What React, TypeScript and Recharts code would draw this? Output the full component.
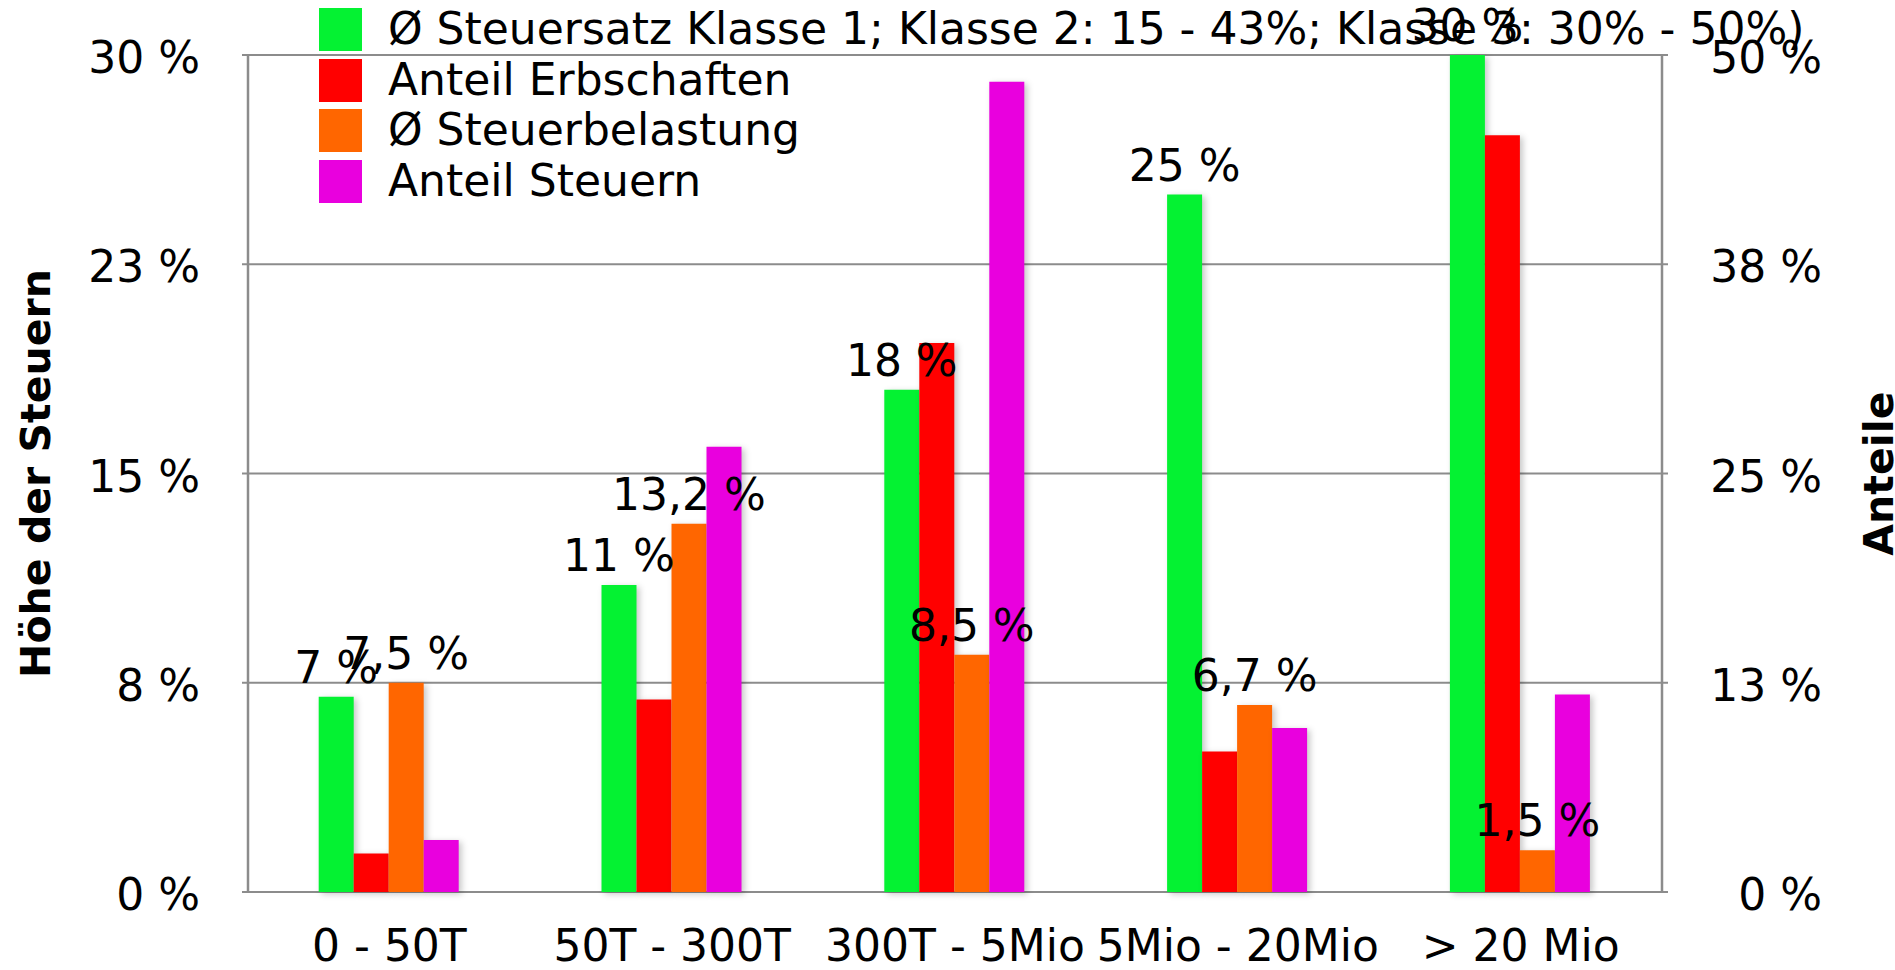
import React from 'react';
import { BarChart, Bar, XAxis, YAxis, CartesianGrid, Legend, LabelList } from 'recharts';

const FONT = '"DejaVu Sans", Verdana, sans-serif';
const AXIS_GRAY = '#8c8c8c';

// Vermögensklassen
const categories = ['0 - 50T', '50T - 300T', '300T - 5Mio', '5Mio - 20Mio', '> 20 Mio'];

// linke Achse (Höhe der Steuern)
const steuersatz = [7, 11, 18, 25, 30];
const steuersatzLabels = ['7 %', '11 %', '18 %', '25 %', '30 %'];
const steuerbelastung = [7.5, 13.2, 8.5, 6.7, 1.5];
const steuerbelastungLabels = ['7,5 %', '13,2 %', '8,5 %', '6,7 %', '1,5 %'];

// rechte Achse (Anteile)
const anteilErbschaften = [2.3, 11.5, 32.8, 8.4, 45.2];
const anteilSteuern = [3.1, 26.6, 48.4, 9.8, 11.8];

const leftTicks = [0, 7.5, 15, 22.5, 30];
const rightTicks = [0, 12.5, 25, 37.5, 50];
const edgeTicks = [0, 1, 2, 3, 4, 5];

const seriesNames = [
  'Ø Steuersatz Klasse 1; Klasse 2: 15 - 43%; Klasse 3: 30% - 50%)',
  'Anteil Erbschaften',
  'Ø Steuerbelastung',
  'Anteil Steuern',
];
const seriesColors = ['#04F232', '#FF0000', '#FF6600', '#E900DE'];

const data = categories.map((name, i) => ({
  name,
  steuersatz: steuersatz[i],
  steuersatzLabel: steuersatzLabels[i],
  erbschaften: anteilErbschaften[i],
  belastung: steuerbelastung[i],
  belastungLabel: steuerbelastungLabels[i],
  steuern: anteilSteuern[i],
}));

const LeftTick = ({ x, y, payload }: any) => (
  <text x={x} y={y} dy={18} textAnchor="end" fontSize={44} fontFamily={FONT} fill="#000">
    {Math.round(payload.value)} %
  </text>
);

const RightTick = ({ x, y, payload }: any) => (
  <text x={x} y={y} dy={18} textAnchor="end" fontSize={44} fontFamily={FONT} fill="#000">
    {Math.round(payload.value)} %
  </text>
);

const CategoryTick = ({ x, y, payload }: any) => (
  <text x={x} y={y} dy={69} textAnchor="middle" fontSize={44} fontFamily={FONT} fill="#000">
    {payload.value}
  </text>
);

// Wert über dem Balken, ohne Umbruch
const TopLabel = ({ x, y, width, value }: any) => (
  <text x={x + width / 2} y={y - 14} textAnchor="middle" fontSize={44} fontFamily={FONT} fill="#000">
    {value}
  </text>
);

const LeftTitle = ({ viewBox }: any) => {
  const cx = viewBox.x + 50;
  const cy = viewBox.y + viewBox.height / 2;
  return (
    <text x={cx} y={cy} transform={`rotate(-90 ${cx} ${cy})`} textAnchor="middle"
      fontSize={41} fontWeight="bold" fontFamily={FONT} fill="#000">
      Höhe der Steuern
    </text>
  );
};

const RightTitle = ({ viewBox }: any) => {
  const cx = viewBox.x + 231;
  const cy = viewBox.y + viewBox.height / 2;
  return (
    <text x={cx} y={cy} transform={`rotate(-90 ${cx} ${cy})`} textAnchor="middle"
      fontSize={41} fontWeight="bold" fontFamily={FONT} fill="#000">
      Anteile
    </text>
  );
};

const ChartLegend = () => (
  <div style={{ fontFamily: FONT, fontSize: 44, lineHeight: '50.7px', color: '#000' }}>
    {seriesNames.map((name, i) => (
      <div key={name} style={{ display: 'flex', alignItems: 'center', height: 50.7, whiteSpace: 'nowrap' }}>
        <span style={{ width: 43, height: 43, background: seriesColors[i], marginRight: 26, flex: 'none' }} />
        <span>{name}</span>
      </div>
    ))}
  </div>
);

export default function App() {
  return (
    <div style={{ width: 1895, height: 970, background: '#fff' }}>
      <style>{`
        body { margin: 0; }
        .recharts-bar-rectangle { filter: drop-shadow(3px 2px 3px rgba(0,0,0,0.22)); }
      `}</style>
      <BarChart
        width={1895}
        height={970}
        data={data}
        margin={{ top: 55, right: 0, bottom: 0, left: 0 }}
        barCategoryGap="25%"
        barGap={0}
        style={{ fontFamily: FONT }}
      >
        <CartesianGrid yAxisId="left" vertical={false} stroke={AXIS_GRAY} strokeWidth={2} />
        <XAxis
          xAxisId="edges"
          type="number"
          domain={[0, 5]}
          ticks={edgeTicks}
          interval={0}
          allowDataOverflow
          height={0}
          tickSize={6}
          stroke={AXIS_GRAY}
          axisLine={{ stroke: AXIS_GRAY, strokeWidth: 2.5 }}
          tickLine={{ stroke: AXIS_GRAY, strokeWidth: 2 }}
          tick={() => <g />}
        />
        <XAxis
          xAxisId="cat"
          dataKey="name"
          height={78}
          interval={0}
          axisLine={false}
          tickLine={false}
          tickSize={0}
          tickMargin={0}
          tick={<CategoryTick />}
        />
        <YAxis
          yAxisId="left"
          domain={[0, 30]}
          ticks={leftTicks}
          interval={0}
          width={248}
          tickSize={6}
          tickMargin={42}
          axisLine={{ stroke: AXIS_GRAY, strokeWidth: 2.5 }}
          tickLine={{ stroke: AXIS_GRAY, strokeWidth: 2 }}
          tick={<LeftTick />}
          label={{ content: <LeftTitle /> }}
        />
        <YAxis
          yAxisId="right"
          orientation="right"
          domain={[0, 50]}
          ticks={rightTicks}
          interval={0}
          width={233}
          tickSize={6}
          tickMargin={154}
          axisLine={{ stroke: AXIS_GRAY, strokeWidth: 2.5 }}
          tickLine={{ stroke: AXIS_GRAY, strokeWidth: 2 }}
          tick={<RightTick />}
          label={{ content: <RightTitle /> }}
        />
        <Legend
          layout="vertical"
          align="center"
          verticalAlign="middle"
          content={<ChartLegend />}
          wrapperStyle={{ left: 319, top: 4, width: 1560 }}
        />
        <Bar xAxisId="cat" yAxisId="left" dataKey="steuersatz" name={seriesNames[0]} fill={seriesColors[0]} isAnimationActive={false}>
          <LabelList dataKey="steuersatzLabel" content={<TopLabel />} />
        </Bar>
        <Bar xAxisId="cat" yAxisId="right" dataKey="erbschaften" name={seriesNames[1]} fill={seriesColors[1]} isAnimationActive={false} />
        <Bar xAxisId="cat" yAxisId="left" dataKey="belastung" name={seriesNames[2]} fill={seriesColors[2]} isAnimationActive={false}>
          <LabelList dataKey="belastungLabel" content={<TopLabel />} />
        </Bar>
        <Bar xAxisId="cat" yAxisId="right" dataKey="steuern" name={seriesNames[3]} fill={seriesColors[3]} isAnimationActive={false} />
      </BarChart>
    </div>
  );
}
